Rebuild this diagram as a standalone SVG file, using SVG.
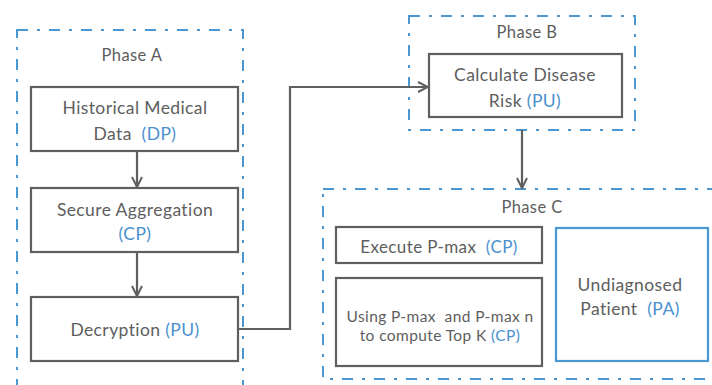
<svg xmlns="http://www.w3.org/2000/svg" width="712" height="385" viewBox="0 0 712 385">
<style>
.bg{fill:#ffffff}
.phase{fill:none;stroke:#4a97d2;stroke-width:2;stroke-dasharray:11 9 3 9}
.box{fill:#ffffff;stroke:#5f5f5f;stroke-width:2.2}
.pbox{fill:#ffffff;stroke:#4a97d2;stroke-width:2.2}
.t{font-family:Lato,"Liberation Sans",sans-serif;fill:#5e5e5e;text-anchor:middle;letter-spacing:0.4px}
.b{fill:#4a90cf}
.edge{fill:none;stroke:#5f5f5f;stroke-width:2.2}
</style>
<defs>
<marker id="arr" viewBox="0 0 12 12" refX="11" refY="6" markerWidth="12" markerHeight="12" markerUnits="userSpaceOnUse" orient="auto">
<path d="M1,1 L11,6 L1,11" fill="none" stroke="#5f5f5f" stroke-width="2"/>
</marker>
</defs>
<rect class="bg" width="712" height="385"/>
<g id="phaseA">
<rect class="phase" x="17" y="30" width="226" height="370"/>
<text class="t" x="132" y="61" font-size="16.5">Phase A</text>
</g>
<g id="phaseB">
<rect class="phase" x="409" y="16" width="226" height="114"/>
<text class="t" x="527" y="38" font-size="16.5">Phase B</text>
</g>
<g id="phaseC">
<rect class="phase" x="323" y="189" width="400" height="190"/>
<text class="t" x="532" y="213" font-size="16.5">Phase C</text>
</g>
<g id="historical">
<rect class="box" x="31" y="87" width="207" height="64"/>
<text class="t" x="135" y="114" font-size="17.5">Historical Medical</text>
<text class="t" x="135" y="140" font-size="17.5" xml:space="preserve">Data  <tspan class="b">(DP)</tspan></text>
</g>
<g id="secure">
<rect class="box" x="31" y="188" width="207" height="64"/>
<text class="t" x="135" y="216" font-size="17.5">Secure Aggregation</text>
<text class="t" x="135" y="240" font-size="17.5"><tspan class="b">(CP)</tspan></text>
</g>
<g id="decryption">
<rect class="box" x="31" y="297" width="207" height="64"/>
<text class="t" x="135" y="336" font-size="17.5">Decryption <tspan class="b">(PU)</tspan></text>
</g>
<g id="calculate">
<rect class="box" x="429" y="54" width="193" height="63"/>
<text class="t" x="525" y="81" font-size="17.5">Calculate Disease</text>
<text class="t" x="525" y="107" font-size="17.5">Risk <tspan class="b">(PU)</tspan></text>
</g>
<g id="execute">
<rect class="box" x="336" y="227" width="206" height="36"/>
<text class="t" x="439" y="253" font-size="17" xml:space="preserve">Execute P-max  <tspan class="b">(CP)</tspan></text>
</g>
<g id="using">
<rect class="box" x="336" y="278" width="206" height="88"/>
<text class="t" x="440" y="322" font-size="15.5" xml:space="preserve">Using P-max  and P-max n</text>
<text class="t" x="440" y="341" font-size="15.5">to compute Top K <tspan class="b">(CP)</tspan></text>
</g>
<g id="patient">
<rect class="pbox" x="556" y="228" width="152" height="133"/>
<text class="t" x="630" y="291" font-size="17.5">Undiagnosed</text>
<text class="t" x="630" y="315" font-size="17.5" xml:space="preserve">Patient  <tspan class="b">(PA)</tspan></text>
</g>
<g id="connectors">
<path class="edge" d="M137,151 V187" marker-end="url(#arr)"/>
<path class="edge" d="M137,252 V296" marker-end="url(#arr)"/>
<path class="edge" d="M238,329 H290 V87 H428" marker-end="url(#arr)"/>
<path class="edge" d="M522,130 V188" marker-end="url(#arr)"/>
</g>
</svg>
